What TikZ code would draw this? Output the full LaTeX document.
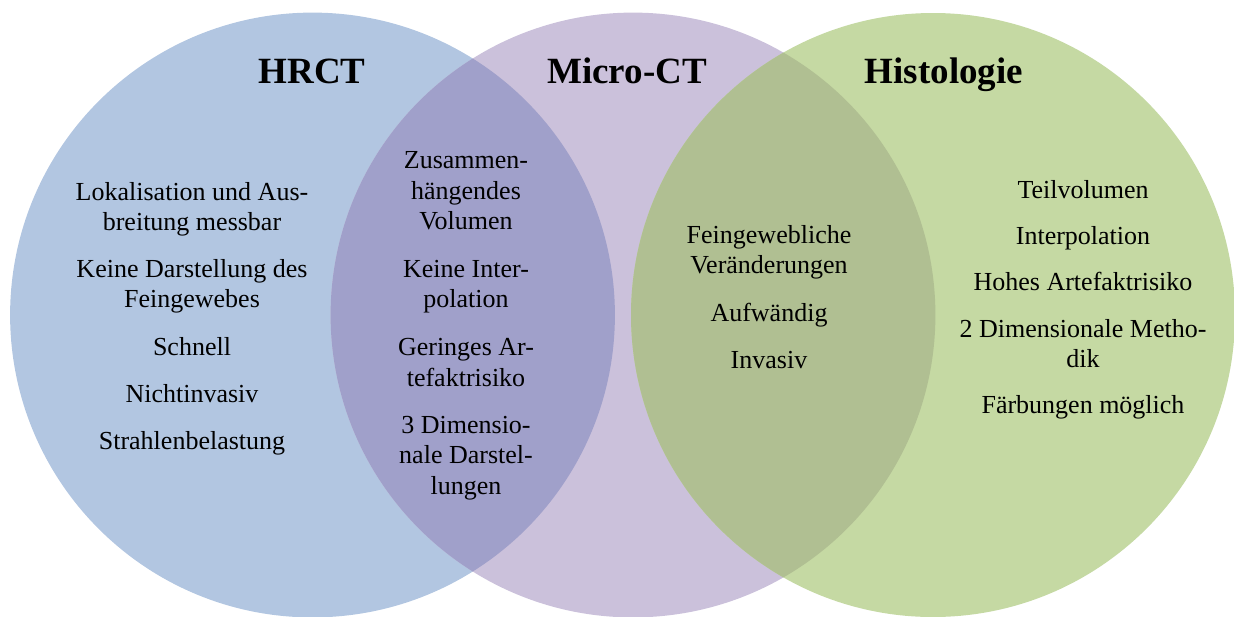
\documentclass[tikz,border=0pt]{standalone}
\usepackage{fontspec}
\setmainfont{Liberation Serif}
\definecolor{cblue}{HTML}{B2C6E1}
\definecolor{cpurple}{HTML}{CBC1DB}
\definecolor{cgreen}{HTML}{C5D9A3}
\definecolor{cbp}{HTML}{A0A0CA}
\definecolor{cpg}{HTML}{B0BF92}
\begin{document}
\begin{tikzpicture}[x=0.5pt,y=-0.5pt,
  txt/.style={anchor=base,inner sep=0pt,font=\fontsize{13pt}{15pt}\selectfont},
  head/.style={anchor=base,inner sep=0pt,font=\fontsize{18.5pt}{21pt}\selectfont\bfseries}]
\useasboundingbox (0,0) rectangle (1234,616);
\coordinate (cb) at (312.5,315);
\coordinate (cp) at (633,315);
\coordinate (cg) at (933,315);
\fill[cblue] (cb) circle[radius=151.2pt];
\fill[cpurple] (cp) circle[radius=151.2pt];
\fill[cgreen] (cg) circle[radius=151pt];
\begin{scope}
  \clip (cb) circle[radius=151.2pt];
  \fill[cbp] (cp) circle[radius=151.2pt];
\end{scope}
\begin{scope}
  \clip (cp) circle[radius=151.2pt];
  \fill[cpg] (cg) circle[radius=151pt];
\end{scope}
% headings
\node[head] (h1) at (312,83) {HRCT};
\node[head] (h2) at (627,83) {Micro-CT};
\node[head] (h3) at (944,83) {Histologie};
% left column
\node[txt] (l1) at (192,200) {Lokalisation und Aus-};
\node[txt] (l2) at (192,230) {breitung messbar};
\node[txt] (l3) at (192,277) {Keine Darstellung des};
\node[txt] (l4) at (192,307) {Feingewebes};
\node[txt] (l5) at (192,355) {Schnell};
\node[txt] (l6) at (192,402) {Nichtinvasiv};
\node[txt] (l7) at (192,449) {Strahlenbelastung};
% middle overlap
\node[txt] (m1) at (466,168) {Zusammen-};
\node[txt] (m2) at (466,199) {hängendes};
\node[txt] (m3) at (466,229) {Volumen};
\node[txt] (m4) at (466,277) {Keine Inter-};
\node[txt] (m5) at (466,307) {polation};
\node[txt] (m6) at (466,355) {Geringes Ar-};
\node[txt] (m7) at (466,386) {tefaktrisiko};
\node[txt] (m8) at (466,433) {3 Dimensio-};
\node[txt] (m9) at (466,463) {nale Darstel-};
\node[txt] (m10) at (466,494) {lungen};
% purple-green overlap
\node[txt] (p1) at (769,243) {Feingewebliche};
\node[txt] (p2) at (769,273) {Veränderungen};
\node[txt] (p3) at (769,321) {Aufwändig};
\node[txt] (p4) at (769,368) {Invasiv};
% right column
\node[txt] (r1) at (1083,198) {Teilvolumen};
\node[txt] (r2) at (1083,244) {Interpolation};
\node[txt] (r3) at (1083,290) {Hohes Artefaktrisiko};
\node[txt] (r4) at (1083,337) {2 Dimensionale Metho-};
\node[txt] (r5) at (1083,367) {dik};
\node[txt] (r6) at (1083,413) {Färbungen möglich};
\end{tikzpicture}
\end{document}
